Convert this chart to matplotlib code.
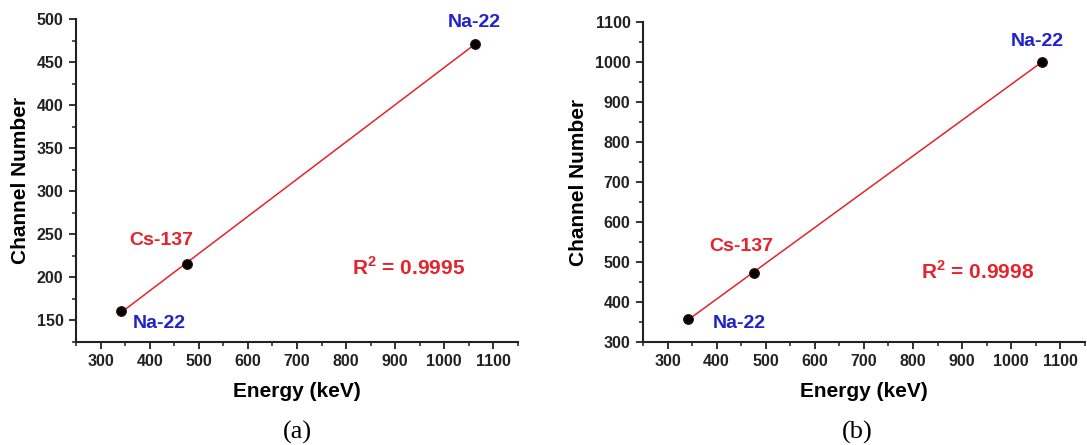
# Energy calibration of channel number for two detector settings, panels (a) and (b).

import matplotlib.pyplot as plt
import numpy as np
from matplotlib.ticker import MultipleLocator

plt.rcParams["font.family"] = ["Liberation Sans", "DejaVu Sans"]
plt.rcParams["font.weight"] = "bold"
plt.rcParams["mathtext.fontset"] = "custom"
plt.rcParams["mathtext.rm"] = "Liberation Sans:bold"
plt.rcParams["mathtext.bf"] = "Liberation Sans:bold"

# Compton edge energies (keV) and measured peak channels
energy = [341, 477, 1062]
sources = ["Na-22", "Cs-137", "Na-22"]
channel_a = [161, 215, 471]
channel_b = [357, 473, 1000]
r2_a = "0.9995"
r2_b = "0.9998"

RED = "#e5232b"
BLUE = "#2222cc"


def calib_panel(ax, chan, r2, ylim, ystep, label_pos, r2_pos):
    x = np.array(energy, dtype=float)
    y = np.array(chan, dtype=float)
    k, b = np.polyfit(x, y, 1)
    xf = np.array([x.min(), x.max()])
    ax.plot(xf, k * xf + b, color=RED, lw=1.1, zorder=2)
    ax.plot(x, y, "o", color="black", ms=7, mec="#3a0a0a", mew=0.8, zorder=3)

    colors = [BLUE, RED, BLUE]
    for name, c, pos in zip(sources, colors, label_pos):
        ax.text(pos[0], pos[1], name, color=c, fontsize=14, fontweight="bold",
                ha="center", va="center")
    ax.text(r2_pos[0], r2_pos[1], r"R$^{2}$ = " + r2, color=RED, fontsize=15,
            fontweight="bold", ha="center", va="center")

    ax.set_xlim(250, 1150)
    ax.set_ylim(*ylim)
    ax.xaxis.set_major_locator(MultipleLocator(100))
    ax.xaxis.set_minor_locator(MultipleLocator(50))
    ax.yaxis.set_major_locator(MultipleLocator(ystep))
    ax.yaxis.set_minor_locator(MultipleLocator(ystep / 2))
    ax.set_xticks(np.arange(300, 1101, 100))
    ax.set_yticks(np.arange(ylim[0] + (ystep - ylim[0] % ystep) % ystep, ylim[1] + 1, ystep))

    for side in ["top", "right"]:
        ax.spines[side].set_visible(False)
    for side in ["left", "bottom"]:
        ax.spines[side].set_linewidth(1.5)
        ax.spines[side].set_color("#222222")
    ax.tick_params(which="major", direction="out", length=5, width=1.3, pad=4,
                   labelsize=11.5, colors="#222222")
    ax.tick_params(which="minor", direction="out", length=3, width=1.1, colors="#222222")
    for lab in ax.get_xticklabels() + ax.get_yticklabels():
        lab.set_fontweight("bold")

    ax.set_xlabel("Energy (keV)", fontsize=15, fontweight="bold", labelpad=9)
    ax.set_ylabel("Channel Number", fontsize=15, fontweight="bold", labelpad=5)


fig = plt.figure(figsize=(10.87, 4.45), dpi=100)
ax_a = fig.add_axes([0.0699, 0.2315, 0.4066, 0.7258])
ax_b = fig.add_axes([0.5915, 0.2315, 0.4065, 0.7191])

calib_panel(ax_a, channel_a, r2_a, (125, 500), 50,
            [(1061, 496), (424, 243), (420, 147)], (927, 212))
calib_panel(ax_b, channel_b, r2_b, (300, 1100), 100,
            [(1054, 1051), (451, 539), (447, 346)], (932, 475))

fig.text(297 / 1087, 1 - 432 / 445, "(a)", fontsize=19, family=["Liberation Serif", "DejaVu Serif"],
         fontweight="normal", ha="center", va="center")
fig.text(857 / 1087, 1 - 432 / 445, "(b)", fontsize=19, family=["Liberation Serif", "DejaVu Serif"],
         fontweight="normal", ha="center", va="center")

fig.savefig("out.png", dpi=100)
